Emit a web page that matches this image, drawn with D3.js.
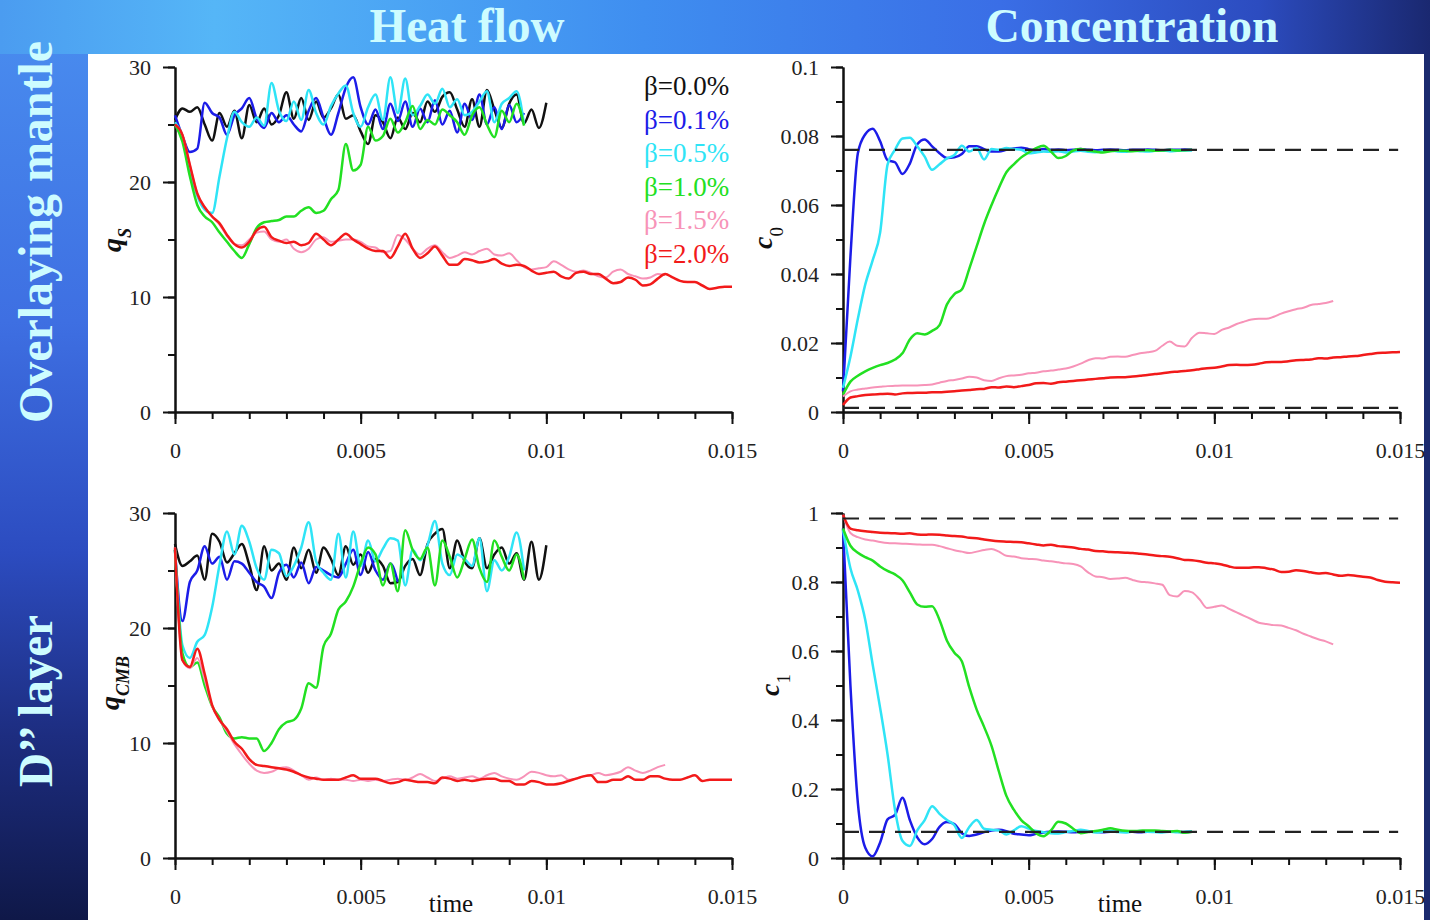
<!DOCTYPE html>
<html>
<head>
<meta charset="utf-8">
<script src="https://cdn.jsdelivr.net/npm/d3@7"></script>
<style>
    body { margin: 0; overflow: hidden; background: #0f1a4a; }
    svg { display: block; }
    text { font-family: "Liberation Serif", "Times New Roman", serif; }
</style>
</head>
<body>
<div id="chart"></div>
<script>
// sampling interval of every series below (time units)
const TIME_STEP = 0.0002;

const timeTicks = [0, 0.005, 0.01, 0.015];
const qTicks = [0, 10, 20, 30];
const c0Ticks = [0, 0.02, 0.04, 0.06, 0.08, 0.1];
const c1Ticks = [0, 0.2, 0.4, 0.6, 0.8, 1];
const betaLabels = ["β=0.0%", "β=0.1%", "β=0.5%", "β=1.0%", "β=1.5%", "β=2.0%"];
const betaColors = ["#111111", "#1c1ce8", "#2fe4f6", "#22e022", "#f793b8", "#f21a1a"];

// surface heat flow q_S
const qsBeta00 = [25.4,26.4,26.1,26.5,25.0,23.6,26.0,24.8,26.2,23.8,26.7,25.2,26.4,25.0,25.8,27.8,25.5,27.3,25.4,27.0,25.6,26.4,27.6,25.5,25.8,24.4,23.3,25.8,25.2,23.8,25.6,24.6,26.0,25.2,27.0,26.1,27.4,27.8,26.3,24.8,27.2,24.8,28.0,26.3,24.7,26.8,27.6,25.1,26.3,24.7,26.9];
const qsBeta01 = [25.8,24.0,22.6,22.9,26.9,26.0,25.6,24.1,25.8,26.4,27.3,25.5,24.7,26.0,25.2,25.8,25.0,24.4,26.2,27.3,25.6,24.1,26.0,28.2,29.1,26.5,25.0,26.3,24.6,26.8,25.3,27.0,24.8,26.4,25.2,27.1,25.0,26.2,24.3,26.8,25.4,27.6,25.0,26.5,24.6,26.7,25.2,26.0];
const qsBeta05 = [25.2,24.0,21.0,18.8,17.6,17.3,20.5,23.8,26.1,25.2,24.8,25.6,24.9,28.6,26.2,25.3,27.0,25.4,28.0,26.0,25.0,26.6,27.7,28.4,26.0,24.8,26.5,27.6,25.4,29.1,26.0,29.0,25.8,26.6,27.6,26.8,28.1,26.5,27.2,25.8,26.1,27.0,27.9,25.2,26.8,27.3,27.9,25.0];
const qsBeta10 = [25.0,23.5,20.5,18.0,17.0,16.5,15.6,14.8,14.0,13.4,14.6,16.0,16.5,16.6,16.7,17.0,17.0,17.5,17.8,17.3,17.5,18.5,19.3,23.3,21.0,21.5,24.8,23.6,24.0,25.5,24.3,25.2,26.6,24.6,25.4,25.0,26.3,25.8,25.2,24.1,25.8,26.5,25.0,23.9,26.2,25.2,26.8,24.9];
const qsBeta15 = [25.0,24.1,21.5,19.0,17.8,17.0,16.3,15.3,14.6,14.5,15.0,15.6,15.7,15.0,14.8,15.0,14.2,13.9,14.2,15.0,15.2,14.8,14.9,15.0,15.0,14.8,14.4,14.3,13.9,14.0,15.4,15.0,14.2,13.7,14.2,14.5,13.9,13.4,13.6,13.9,13.7,14.0,14.2,13.7,13.6,13.8,13.2,12.6,12.4,12.5,12.6,13.1,12.8,12.4,12.2,12.3,12.1,11.8,11.7,12.2,12.4,12.0,11.8,11.6,11.7,12.0,11.9];
const qsBeta20 = [25.0,24.1,21.5,19.0,17.8,17.0,16.4,15.4,14.6,14.3,14.8,15.8,16.1,15.2,14.9,14.7,14.8,14.5,14.7,15.5,15.0,14.5,15.0,15.5,15.0,14.6,14.2,14.0,14.0,13.4,14.4,15.5,14.2,13.4,13.8,14.4,13.6,12.8,12.8,13.3,13.2,13.0,13.1,13.3,12.9,12.7,12.8,12.7,12.3,12.0,12.1,12.2,11.8,11.6,12.1,12.2,12.0,12.0,11.6,11.2,11.3,11.7,11.5,11.0,11.1,11.6,12.0,11.7,11.4,11.3,11.3,11.0,10.7,10.8,10.9,10.9];

// core-mantle boundary heat flow q_CMB
const qcmbBeta00 = [27.3,25.4,25.8,26.3,24.2,28.2,27.5,25.7,26.5,27.3,25.5,23.3,27.1,25.0,25.6,24.2,27.0,25.2,26.8,24.8,27.0,26.0,24.6,27.1,25.5,26.4,24.8,26.0,25.4,23.9,24.0,25.4,26.0,24.6,27.3,28.2,28.6,25.2,27.6,25.8,25.2,27.8,25.2,26.4,27.0,25.6,26.5,24.2,27.5,24.2,27.2];
const qcmbBeta01 = [26.8,20.6,24.0,25.0,27.1,25.6,26.2,24.2,25.8,25.6,24.8,24.0,23.6,22.6,24.8,25.5,24.4,25.7,23.9,25.3,25.0,24.6,24.4,25.6,26.8,24.6,26.6,25.0,24.2,25.6,24.0];
const qcmbBeta05 = [26.8,18.5,17.4,18.8,19.4,21.8,25.5,28.4,26.4,28.9,27.5,25.2,24.2,26.8,26.5,24.5,25.4,27.0,29.2,25.8,24.8,24.2,28.2,24.4,28.4,25.4,27.6,25.8,26.9,27.8,27.6,23.7,26.8,25.9,27.2,29.3,25.6,24.6,26.4,26.0,25.4,27.8,23.2,25.9,25.0,26.2,28.3,25.0];
const qcmbBeta10 = [26.8,17.8,16.6,17.0,15.0,13.2,12.2,10.8,10.4,10.5,10.4,10.4,9.3,10.0,11.2,11.8,12.0,13.0,15.2,14.8,18.4,19.5,21.6,22.3,23.6,25.6,27.0,26.4,23.7,25.6,23.2,28.5,26.8,26.0,27.0,23.7,27.6,26.2,24.4,26.0,27.7,25.2,24.0,27.6,26.2,25.0,26.4,24.2];
const qcmbBeta15 = [27.0,17.2,16.5,17.4,15.5,13.2,12.0,11.0,9.9,9.0,8.2,7.6,7.4,7.5,7.8,7.9,7.6,7.2,6.8,7.0,6.8,6.9,6.8,6.8,6.7,6.8,6.7,6.8,6.7,6.8,6.9,6.8,7.0,7.3,7.0,6.7,6.9,7.1,6.9,7.0,7.1,6.9,7.2,7.4,7.1,6.9,6.8,7.1,7.5,7.4,7.2,7.1,7.2,6.8,6.9,7.1,7.2,7.4,7.2,7.3,7.5,7.9,7.6,7.4,7.6,7.9,8.1];
const qcmbBeta20 = [27.0,17.2,16.6,18.2,16.0,13.3,12.0,11.2,10.1,9.5,8.6,8.1,8.0,7.9,7.8,7.7,7.5,7.2,7.0,6.9,6.8,6.8,6.8,7.0,7.2,6.9,6.9,6.9,6.7,6.5,6.6,6.8,6.7,6.6,6.6,6.5,7.0,6.9,6.7,6.8,6.7,6.8,6.9,6.9,6.7,6.7,6.4,6.4,6.7,6.6,6.4,6.4,6.5,6.7,6.9,7.1,7.2,6.6,6.6,6.8,6.8,7.1,6.8,6.8,7.1,7.1,6.9,6.8,6.8,7.0,7.2,6.7,6.8,6.8,6.8,6.8];

// concentration in the overlaying mantle c_0
const c0Beta01 = [0.006,0.045,0.075,0.0805,0.0821,0.0785,0.0730,0.0724,0.0690,0.0720,0.0776,0.0790,0.0770,0.0750,0.0736,0.0738,0.0748,0.0770,0.0770,0.0762,0.0755,0.0755,0.0760,0.0764,0.0766,0.0762,0.0758,0.0762,0.0760,0.0761,0.0759,0.0760,0.0762,0.0760,0.0759,0.0760,0.0761,0.0760,0.0759,0.0760,0.0760,0.0761,0.0760,0.0759,0.0760,0.0760,0.0761,0.0760];
const c0Beta05 = [0.007,0.016,0.027,0.037,0.044,0.052,0.0717,0.0760,0.0793,0.0795,0.0770,0.0740,0.0702,0.0718,0.0735,0.0745,0.0772,0.0755,0.0765,0.0732,0.0762,0.0760,0.0765,0.0762,0.0760,0.0750,0.0752,0.0755,0.0754,0.0756,0.0752,0.0755,0.0757,0.0754,0.0753,0.0756,0.0758,0.0755,0.0754,0.0757,0.0756,0.0755,0.0757,0.0758,0.0756,0.0757,0.0758,0.0758];
const c0Beta10 = [0.005,0.0088,0.0105,0.0118,0.0128,0.0136,0.0142,0.0152,0.0170,0.0210,0.0228,0.0225,0.0235,0.0252,0.0312,0.0342,0.0355,0.0415,0.0480,0.0545,0.0600,0.0650,0.0695,0.0718,0.0738,0.0752,0.0765,0.0772,0.0755,0.0736,0.0742,0.0758,0.0762,0.0758,0.0755,0.0752,0.0756,0.0758,0.0757,0.0756,0.0758,0.0759,0.0757,0.0758,0.0760,0.0758,0.0759,0.0760];
const c0Beta15 = [0.0045,0.0060,0.0065,0.0068,0.0071,0.0073,0.0075,0.0076,0.0077,0.0077,0.0077,0.0078,0.0080,0.0085,0.0090,0.0093,0.0097,0.0102,0.0100,0.0092,0.0090,0.0098,0.0104,0.0106,0.0108,0.0112,0.0114,0.0118,0.0120,0.0123,0.0126,0.0132,0.0140,0.0150,0.0156,0.0155,0.0160,0.0161,0.0160,0.0165,0.0170,0.0173,0.0177,0.0192,0.0204,0.0192,0.0190,0.0215,0.0230,0.0228,0.0226,0.0238,0.0245,0.0255,0.0262,0.0268,0.0270,0.0270,0.0276,0.0285,0.0292,0.0298,0.0302,0.0310,0.0313,0.0316,0.0322];
const c0Beta20 = [0.0020,0.0042,0.0046,0.0049,0.0051,0.0052,0.0053,0.0051,0.0054,0.0055,0.0056,0.0056,0.0057,0.0057,0.0059,0.0060,0.0062,0.0064,0.0066,0.0067,0.0072,0.0071,0.0074,0.0072,0.0075,0.0078,0.0083,0.0084,0.0082,0.0086,0.0088,0.0090,0.0092,0.0094,0.0096,0.0098,0.0100,0.0101,0.0101,0.0103,0.0105,0.0107,0.0110,0.0112,0.0115,0.0117,0.0119,0.0121,0.0124,0.0127,0.0128,0.0132,0.0136,0.0137,0.0136,0.0137,0.0140,0.0144,0.0145,0.0145,0.0147,0.0150,0.0151,0.0152,0.0156,0.0155,0.0158,0.0159,0.0161,0.0162,0.0165,0.0168,0.0171,0.0172,0.0173,0.0174];
const c0Reference = [0.076, 0.0012];

// concentration in the D'' layer c_1
const c1Beta01 = [0.955,0.500,0.160,0.030,0.005,0.045,0.112,0.125,0.175,0.110,0.060,0.040,0.055,0.090,0.104,0.098,0.072,0.064,0.068,0.075,0.080,0.082,0.078,0.070,0.068,0.066,0.070,0.074,0.076,0.077,0.076,0.075,0.076,0.077,0.076,0.075,0.076,0.076,0.077,0.076,0.075,0.076,0.076,0.077,0.076,0.076,0.075,0.076];
const c1Beta05 = [0.952,0.840,0.775,0.690,0.560,0.435,0.300,0.140,0.050,0.035,0.080,0.110,0.150,0.128,0.110,0.095,0.058,0.090,0.110,0.085,0.082,0.080,0.068,0.080,0.092,0.085,0.078,0.075,0.072,0.071,0.075,0.078,0.082,0.078,0.074,0.077,0.079,0.075,0.074,0.077,0.078,0.076,0.075,0.074,0.076,0.075,0.076,0.077];
const c1Beta10 = [0.955,0.905,0.885,0.872,0.862,0.845,0.832,0.822,0.805,0.770,0.735,0.728,0.730,0.690,0.630,0.595,0.570,0.495,0.430,0.380,0.325,0.250,0.180,0.140,0.110,0.092,0.072,0.063,0.080,0.105,0.100,0.085,0.072,0.075,0.078,0.082,0.086,0.082,0.079,0.078,0.079,0.080,0.080,0.078,0.077,0.078,0.073,0.076];
const c1Beta15 = [0.995,0.942,0.930,0.923,0.920,0.916,0.913,0.912,0.911,0.910,0.909,0.908,0.908,0.904,0.898,0.892,0.888,0.884,0.888,0.893,0.896,0.888,0.876,0.874,0.869,0.867,0.866,0.862,0.860,0.857,0.854,0.852,0.845,0.828,0.816,0.814,0.809,0.810,0.812,0.806,0.801,0.799,0.796,0.792,0.762,0.758,0.774,0.770,0.750,0.725,0.728,0.732,0.722,0.712,0.702,0.692,0.682,0.678,0.675,0.674,0.667,0.660,0.650,0.642,0.634,0.628,0.619];
const c1Beta20 = [0.995,0.955,0.950,0.947,0.945,0.943,0.942,0.941,0.940,0.941,0.938,0.937,0.938,0.937,0.935,0.933,0.932,0.928,0.927,0.923,0.920,0.918,0.917,0.916,0.915,0.912,0.909,0.906,0.908,0.904,0.902,0.900,0.896,0.894,0.890,0.889,0.887,0.886,0.885,0.884,0.882,0.880,0.877,0.875,0.873,0.869,0.864,0.863,0.860,0.856,0.854,0.851,0.845,0.841,0.841,0.842,0.843,0.840,0.836,0.829,0.830,0.834,0.832,0.828,0.825,0.826,0.822,0.818,0.820,0.818,0.815,0.813,0.806,0.801,0.799,0.798];
const c1Reference = [0.984, 0.076];


class TimeSeriesPanel {

    constructor(svg, config) {
        this.svg = svg;
        this.config = config;
        this.initVis();
    }

    initVis() {
        let vis = this;
        let c = vis.config;

        vis.g = vis.svg.append("g").attr("class", "panel");

        vis.xScale = d3.scaleLinear()
            .domain([0, 0.015])
            .range([c.left, c.right]);
        vis.yScale = d3.scaleLinear()
            .domain([0, c.yMax])
            .range([c.bottom, c.top]);

        vis.line = d3.line()
            .x((d, i) => vis.xScale(i * TIME_STEP))
            .y(d => vis.yScale(d))
            .curve(d3.curveMonotoneX);

        vis.drawAxes();
        vis.drawLines();
        vis.drawReference();
        vis.drawLabels();
    }

    drawAxes() {
        let vis = this;
        let c = vis.config;
        const fmt = d => d === 0 ? "0" : String(+d.toFixed(4));

        const xMinor = d3.axisBottom(vis.xScale)
            .tickValues(d3.range(0, 0.01501, 0.001))
            .tickSize(7).tickSizeOuter(0).tickFormat("");
        const xMajor = d3.axisBottom(vis.xScale)
            .tickValues(timeTicks)
            .tickSize(12).tickSizeOuter(0).tickPadding(18).tickFormat(fmt);
        const yMinor = d3.axisLeft(vis.yScale)
            .tickValues(d3.range(0, c.yMax * 1.001, c.yMax / (c.ticks.length - 1) / 2))
            .tickSize(7).tickSizeOuter(0).tickFormat("");
        const yMajor = d3.axisLeft(vis.yScale)
            .tickValues(c.ticks)
            .tickSize(12).tickSizeOuter(0).tickPadding(12).tickFormat(fmt);

        [xMinor, xMajor].forEach(ax => {
            vis.g.append("g")
                .attr("transform", `translate(0,${c.bottom})`)
                .call(ax);
        });
        [yMinor, yMajor].forEach(ax => {
            vis.g.append("g")
                .attr("transform", `translate(${c.left},0)`)
                .call(ax);
        });

        vis.g.selectAll(".domain, .tick line")
            .attr("stroke", "#111")
            .attr("stroke-width", 2);
        vis.g.selectAll(".tick text")
            .attr("fill", "#222")
            .style("font-size", "22px")
            .style("font-family", "'Liberation Serif', serif");
    }

    drawLines() {
        let vis = this;
        vis.config.series.forEach((s, k) => {
            if (!s) return;
            vis.g.append("path")
                .datum(s)
                .attr("fill", "none")
                .attr("stroke", betaColors[k])
                .attr("stroke-width", k === 4 ? 2 : 2.5)
                .attr("stroke-linejoin", "round")
                .attr("d", vis.line);
        });
    }

    drawReference() {
        let vis = this;
        (vis.config.reference || []).forEach(v => {
            vis.g.append("line")
                .attr("x1", vis.xScale(0))
                .attr("x2", vis.xScale(0.01495))
                .attr("y1", vis.yScale(v))
                .attr("y2", vis.yScale(v))
                .attr("stroke", "#222")
                .attr("stroke-width", 2.2)
                .attr("stroke-dasharray", "16,10");
        });
    }

    drawLabels() {
        let vis = this;
        let c = vis.config;

        let lab = vis.g.append("text")
            .attr("transform", `translate(${c.labelX},${c.labelY}) rotate(-90)`)
            .attr("text-anchor", "middle")
            .attr("fill", "#111")
            .style("font-size", "28px");
        lab.append("tspan")
            .style("font-style", "italic")
            .style("font-weight", "bold")
            .text(c.symbol);
        lab.append("tspan")
            .attr("baseline-shift", "sub")
            .style("font-size", c.subItalic ? "18px" : "19px")
            .style("font-style", c.subItalic ? "italic" : "normal")
            .style("font-weight", c.subItalic ? "bold" : "normal")
            .text(c.subscript);

        if (c.showTime) {
            // kept just inside the bottom edge so nothing is clipped
            vis.g.append("text")
                .attr("x", c.timeX)
                .attr("y", 912)
                .attr("text-anchor", "middle")
                .attr("fill", "#111")
                .style("font-size", "25px")
                .text("time");
        }
    }
}

// ---- page ----
const svg = d3.select("#chart").append("svg")
    .attr("width", 1430)
    .attr("height", 920);

const defs = svg.append("defs");
const sideGrad = defs.append("linearGradient")
    .attr("id", "sideGrad")
    .attr("x1", 0).attr("y1", 0).attr("x2", 0).attr("y2", 1);
[["0%", "#4a8ff0"], ["35%", "#3e6fe2"], ["60%", "#2c4cc0"], ["80%", "#1d2d80"], ["100%", "#0f1848"]]
    .forEach(s => sideGrad.append("stop").attr("offset", s[0]).attr("stop-color", s[1]));
const topGrad = defs.append("linearGradient")
    .attr("id", "topGrad")
    .attr("x1", 0).attr("y1", 0).attr("x2", 1).attr("y2", 0);
[["0%", "#4b9cf0"], ["15%", "#55b6f7"], ["45%", "#3f8ef0"], ["70%", "#3a6ee6"], ["88%", "#2c4cc0"], ["100%", "#1a2870"]]
    .forEach(s => topGrad.append("stop").attr("offset", s[0]).attr("stop-color", s[1]));

svg.append("rect").attr("width", 1430).attr("height", 920).attr("fill", "url(#sideGrad)");
svg.append("rect").attr("width", 1430).attr("height", 54).attr("fill", "url(#topGrad)");
svg.append("rect").attr("x", 1424).attr("y", 54).attr("width", 6).attr("height", 866).attr("fill", "#1b2a6e");
svg.append("rect").attr("x", 88).attr("y", 54).attr("width", 1336).attr("height", 866).attr("fill", "#ffffff");

// headers
[["Heat flow", 467, 195], ["Concentration", 1132, 293]].forEach(h => {
    svg.append("text")
        .attr("x", h[1]).attr("y", 42)
        .attr("text-anchor", "middle")
        .attr("textLength", h[2])
        .attr("lengthAdjust", "spacingAndGlyphs")
        .attr("fill", "#cdfcff")
        .style("font-size", "48px")
        .style("font-weight", "bold")
        .text(h[0]);
});
[["Overlaying mantle", 232, 382], ["D’’ layer", 701, 172]].forEach(h => {
    svg.append("text")
        .attr("transform", `translate(52,${h[1]}) rotate(-90)`)
        .attr("text-anchor", "middle")
        .attr("textLength", h[2])
        .attr("lengthAdjust", "spacingAndGlyphs")
        .attr("fill", "#cdfcff")
        .style("font-size", "48px")
        .style("font-weight", "bold")
        .text(h[0]);
});

new TimeSeriesPanel(svg, {
    left: 175, right: 732, top: 67, bottom: 412, yMax: 30, ticks: qTicks,
    series: [qsBeta00, qsBeta01, qsBeta05, qsBeta10, qsBeta15, qsBeta20],
    symbol: "q", subscript: "S", subItalic: true, labelX: 121, labelY: 240
});
new TimeSeriesPanel(svg, {
    left: 843, right: 1400, top: 67, bottom: 412, yMax: 0.1, ticks: c0Ticks,
    series: [null, c0Beta01, c0Beta05, c0Beta10, c0Beta15, c0Beta20],
    reference: c0Reference,
    symbol: "c", subscript: "0", subItalic: false, labelX: 772, labelY: 238
});
new TimeSeriesPanel(svg, {
    left: 175, right: 732, top: 513, bottom: 858, yMax: 30, ticks: qTicks,
    series: [qcmbBeta00, qcmbBeta01, qcmbBeta05, qcmbBeta10, qcmbBeta15, qcmbBeta20],
    symbol: "q", subscript: "CMB", subItalic: true, labelX: 119, labelY: 683,
    showTime: true, timeX: 451
});
new TimeSeriesPanel(svg, {
    left: 843, right: 1400, top: 513, bottom: 858, yMax: 1, ticks: c1Ticks,
    series: [null, c1Beta01, c1Beta05, c1Beta10, c1Beta15, c1Beta20],
    reference: c1Reference,
    symbol: "c", subscript: "1", subItalic: false, labelX: 779, labelY: 685,
    showTime: true, timeX: 1120
});

// legend
const legend = svg.append("g").attr("class", "legend");
legend.selectAll("text")
    .data(betaLabels)
    .join("text")
    .attr("x", 644)
    .attr("y", (d, i) => 95 + i * 33.6)
    .attr("fill", (d, i) => betaColors[i])
    .style("font-size", "27px")
    .text(d => d);
</script>
</body>
</html>
